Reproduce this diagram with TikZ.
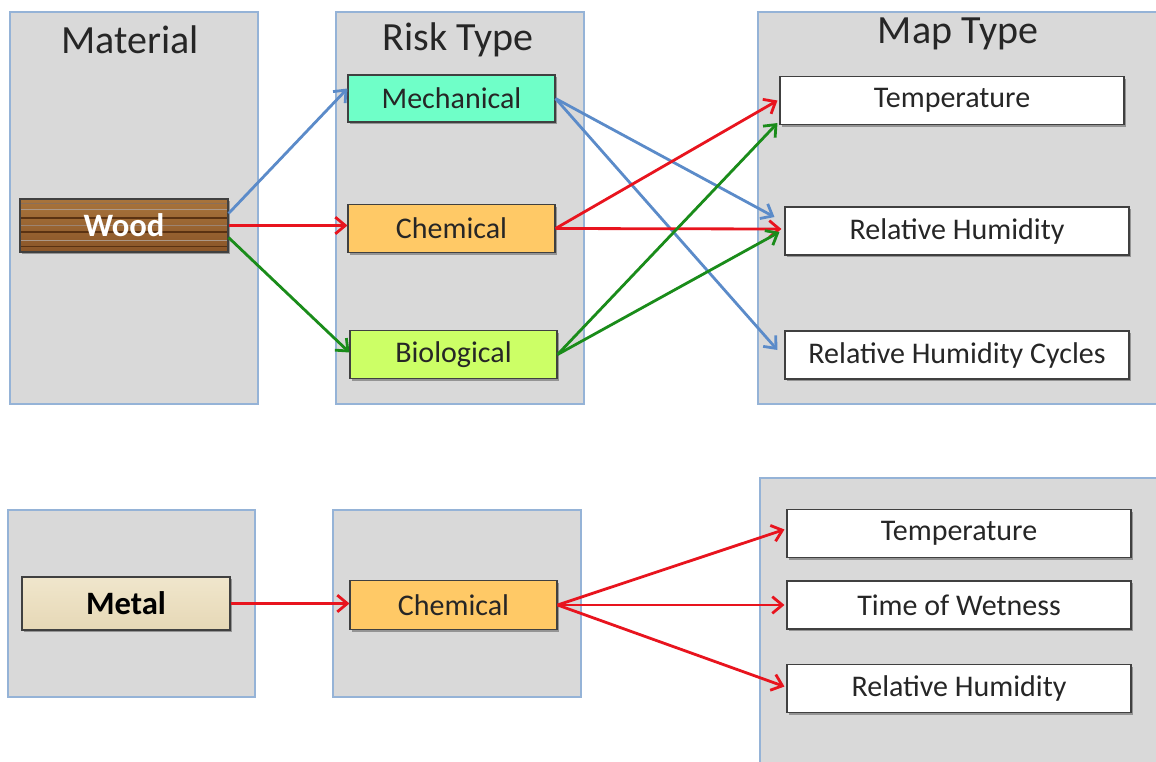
\documentclass[tikz,border=0pt]{standalone}
\usepackage{fontspec}
\setmainfont{Carlito}
\usetikzlibrary{calc,shadows,arrows.meta}
\definecolor{panelgray}{HTML}{D9D9D9}
\definecolor{panelblue}{HTML}{95B3D7}
\definecolor{mechc}{HTML}{6FFFC8}
\definecolor{chemc}{HTML}{FFC966}
\definecolor{bioc}{HTML}{CCFF66}
\definecolor{woodc}{HTML}{8A5528}
\definecolor{woodl}{HTML}{A8743C}
\definecolor{woodd}{HTML}{5A3212}
\definecolor{metalc}{HTML}{E6D8B6}
\definecolor{metall}{HTML}{F0E6CC}
\definecolor{arblue}{HTML}{5B8BC9}
\definecolor{arred}{HTML}{E8141E}
\definecolor{argreen}{HTML}{1A8C1A}
\tikzset{
  panel/.style={fill=panelgray, draw=panelblue, line width=1.1pt},
  title/.style={font=\fontsize{30}{33}\selectfont, text=black!85},
  box/.style={draw=black!75, line width=0.8pt, inner sep=0pt,
    font=\fontsize{22.5}{25}\selectfont, text=black!85,
    drop shadow={shadow xshift=1.8pt, shadow yshift=-1.8pt, fill=black!60, opacity=0.6}},
  wide/.style={minimum width=258pt, minimum height=36pt},
  narrow/.style={minimum width=155.25pt, minimum height=36.5pt},
  matbox/.style={minimum width=156pt, minimum height=39.75pt,
    font=\fontsize{24.5}{27}\selectfont\bfseries},
  conn/.style={line width=2.1pt, -{Straight Barb[length=7.5pt,width=12.5pt]}},
  bl/.style={conn, arblue},
  rd/.style={conn, arred},
  gr/.style={conn, argreen},
}
\begin{document}
\begin{tikzpicture}[x=0.75pt,y=-0.75pt]
\fill[white] (0,0) rectangle (1156,761);
\useasboundingbox (0,0) rectangle (1156,761);
% panels
\draw[panel] (10,12) rectangle (258,404);
\draw[panel] (336,12) rectangle (584,404);
\draw[panel] (758,12) rectangle (1162,404);
\draw[panel] (8,510) rectangle (255,697);
\draw[panel] (333,510) rectangle (581,697);
\draw[panel] (760,478) rectangle (1162,768);
% titles
\node[title] (tmat) at (130,40) {Material};
\node[title] (trisk) at (458,40) {Risk Type};
\node[title] (tmap) at (958,34) {Map Type};
% top row nodes
\node[box, matbox, top color=woodl, bottom color=woodc, text=white,
  path picture={
    \foreach \f/\c/\w in {0.08/woodd!70/0.5,0.2/woodd!50/1.2,0.36/woodd/0.9,0.5/woodd!60/0.5,0.62/woodd/1.1,0.78/woodd!50/0.6,0.9/woodd/0.8}{
      \draw[\c, line width=\w pt]
        ($(path picture bounding box.north west)!\f!(path picture bounding box.south west)$) --
        ($(path picture bounding box.north east)!\f!(path picture bounding box.south east)$);}
  }] (wood) at (124,225.5) {Wood};
\node[box, narrow, fill=mechc, minimum height=35.25pt] (mech) at (451.5,98.5) {Mechanical};
\node[box, narrow, fill=chemc] (chem) at (451.5,228.5) {Chemical};
\node[box, narrow, fill=bioc] (bio) at (453.5,354.5) {Biological};
\node[box, wide, fill=white] (temp) at (952,100.5) {Temperature};
\node[box, wide, fill=white] (rh) at (957,231) {Relative Humidity};
\node[box, wide, fill=white] (rhc) at (957,355) {Relative Humidity Cycles};
% bottom row nodes
\node[box, matbox, top color=metall, bottom color=metalc, text=black] (metal) at (126,603.5) {Metal};
\node[box, narrow, fill=chemc] (chemb) at (453.5,605) {Chemical};
\node[box, wide, fill=white] (tempb) at (959,533.5) {Temperature};
\node[box, wide, fill=white] (tow) at (959,605) {Time of Wetness};
\node[box, wide, fill=white] (rhb) at (959,688.5) {Relative Humidity};
% connectors top
\draw[bl] ($(wood.east)+(0,-12)$) -- ($(mech.west)+(0,-10)$);
\draw[rd] (wood.east) -- (wood.east -| chem.west);
\draw[gr] ($(wood.east)+(0,12)$) -- ($(bio.west)+(0,-2)$);
\draw[bl] (mech.east) -- ($(rh.west)+(-10,-14)$);
\draw[bl] (mech.east) -- ($(rhc.west)+(-7,-5)$);
\draw[rd] (chem.east) -- ($(temp.west)+(-2,0)$);
\draw[rd] (chem.east) -- ($(rh.west)+(-3,-2)$);
\draw[gr] (bio.east) -- ($(temp.south west)+(-2,-2)$);
\draw[gr] (bio.east) -- ($(rh.west)+(-5,1)$);
% connectors bottom
\draw[rd] (metal.east) -- (metal.east -| chemb.west);
\draw[rd] (chemb.east) -- ($(tempb.west)+(-2,-4)$);
\draw[rd] (chemb.east) -- ($(tow.west)+(-2,0)$);
\draw[rd] (chemb.east) -- ($(rhb.west)+(-2,-2)$);
\end{tikzpicture}
\end{document}
